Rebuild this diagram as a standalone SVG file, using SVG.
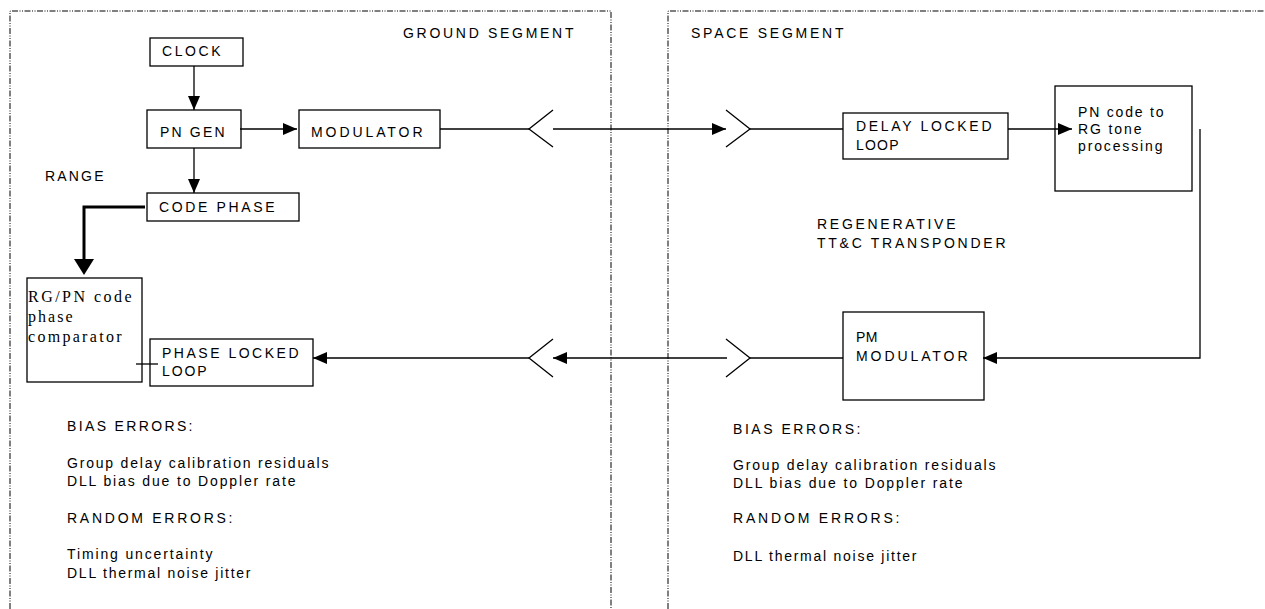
<svg xmlns="http://www.w3.org/2000/svg" width="1265" height="609" viewBox="0 0 1265 609">
<style>
.bg{fill:#fff}
.box{fill:#fff;stroke:#000;stroke-width:1.3}
.seg{fill:none;stroke:#000;stroke-width:1;stroke-dasharray:6 1.5 1 1.5 1 1.5}
.ln{fill:none;stroke:#000;stroke-width:1.3}
.thick{fill:none;stroke:#000;stroke-width:3}
.t{font-family:"Liberation Sans",Arial,sans-serif;font-size:14px;fill:#000;letter-spacing:1.5px}
.s{font-family:"Liberation Serif","Times New Roman",serif;font-size:16px;fill:#000;letter-spacing:1.5px}
</style>
<defs>
<marker id="ah" markerUnits="userSpaceOnUse" markerWidth="14" markerHeight="12" refX="14" refY="6" orient="auto">
<path d="M0,0 L14,6 L0,12 z" fill="#000"/>
</marker>
</defs>
<rect class="bg" x="0" y="0" width="1265" height="609"/>
<g id="segments">
<path class="seg" d="M10,609 V11 H611 V609"/>
<path class="seg" d="M668,609 V11 H1265"/>
<text class="t" x="403" y="38" textLength="172" lengthAdjust="spacing">GROUND SEGMENT</text>
<text class="t" x="691" y="38" textLength="154" lengthAdjust="spacing">SPACE SEGMENT</text>
</g>
<g id="clock"><rect class="box" x="150" y="38" width="93" height="28"/><text class="t" x="162" y="56" textLength="60" lengthAdjust="spacing">CLOCK</text></g>
<g id="pngen"><rect class="box" x="147" y="110" width="94" height="38"/><text class="t" x="160" y="137" textLength="66" lengthAdjust="spacing">PN GEN</text></g>
<g id="modulator"><rect class="box" x="299" y="110" width="141" height="38"/><text class="t" x="311" y="137" textLength="113" lengthAdjust="spacing">MODULATOR</text></g>
<g id="range"><text class="t" x="45" y="181" textLength="60" lengthAdjust="spacing">RANGE</text></g>
<g id="codephase"><rect class="box" x="147" y="193" width="152" height="28"/><text class="t" x="159" y="212" textLength="117" lengthAdjust="spacing">CODE PHASE</text></g>
<g id="comparator"><rect class="box" x="27" y="278" width="115" height="104"/>
<text class="s" x="28" y="302" textLength="105" lengthAdjust="spacing">RG/PN code</text>
<text class="s" x="28" y="322" textLength="46" lengthAdjust="spacing">phase</text>
<text class="s" x="28" y="342" textLength="95" lengthAdjust="spacing">comparator</text></g>
<g id="pll"><rect class="box" x="150" y="339" width="163" height="47"/>
<text class="t" x="162" y="358" textLength="138" lengthAdjust="spacing">PHASE LOCKED</text>
<text class="t" x="162" y="376" textLength="46" lengthAdjust="spacing">LOOP</text></g>
<g id="dll"><rect class="box" x="843" y="113" width="165" height="46"/>
<text class="t" x="856" y="131" textLength="137" lengthAdjust="spacing">DELAY LOCKED</text>
<text class="t" x="856" y="150" textLength="44" lengthAdjust="spacing">LOOP</text></g>
<g id="pntone"><rect class="box" x="1055" y="86" width="137" height="105"/>
<text class="t" x="1078" y="117" textLength="87" lengthAdjust="spacing">PN code to</text>
<text class="t" x="1078" y="134" textLength="65" lengthAdjust="spacing">RG tone</text>
<text class="t" x="1078" y="151" textLength="86" lengthAdjust="spacing">processing</text></g>
<g id="transponder">
<text class="t" x="817" y="229" textLength="140" lengthAdjust="spacing">REGENERATIVE</text>
<text class="t" x="817" y="248" textLength="190" lengthAdjust="spacing">TT&amp;C TRANSPONDER</text></g>
<g id="pmmod"><rect class="box" x="843" y="312" width="141" height="88"/>
<text class="t" x="856" y="342" textLength="23" lengthAdjust="spacing">PM</text>
<text class="t" x="856" y="361" textLength="113" lengthAdjust="spacing">MODULATOR</text></g>
<g id="ground-errors">
<text class="t" x="67" y="431" textLength="127" lengthAdjust="spacing">BIAS ERRORS:</text>
<text class="t" x="67" y="468" textLength="263" lengthAdjust="spacing">Group delay calibration residuals</text>
<text class="t" x="67" y="486" textLength="230" lengthAdjust="spacing">DLL bias due to Doppler rate</text>
<text class="t" x="67" y="523" textLength="167" lengthAdjust="spacing">RANDOM ERRORS:</text>
<text class="t" x="67" y="559" textLength="147" lengthAdjust="spacing">Timing uncertainty</text>
<text class="t" x="67" y="578" textLength="185" lengthAdjust="spacing">DLL thermal noise jitter</text></g>
<g id="space-errors">
<text class="t" x="733" y="434" textLength="129" lengthAdjust="spacing">BIAS ERRORS:</text>
<text class="t" x="733" y="470" textLength="264" lengthAdjust="spacing">Group delay calibration residuals</text>
<text class="t" x="733" y="488" textLength="231" lengthAdjust="spacing">DLL bias due to Doppler rate</text>
<text class="t" x="733" y="523" textLength="168" lengthAdjust="spacing">RANDOM ERRORS:</text>
<text class="t" x="733" y="561" textLength="185" lengthAdjust="spacing">DLL thermal noise jitter</text></g>
<g id="connectors">
<line class="ln" x1="194" y1="66" x2="194" y2="110" marker-end="url(#ah)"/>
<line class="ln" x1="194" y1="148" x2="194" y2="193" marker-end="url(#ah)"/>
<line class="ln" x1="240" y1="129" x2="297" y2="129" marker-end="url(#ah)"/>
<polyline class="thick" points="145,207 84,207 84,260"/>
<polygon points="74,259 94,259 84,275" fill="#000"/>
<line class="ln" x1="440" y1="129" x2="529" y2="129"/>
<polyline class="ln" points="553,110 529,129 553,147"/>
<line class="ln" x1="553" y1="129" x2="726" y2="129" marker-end="url(#ah)"/>
<polyline class="ln" points="726,110 750,129 726,147"/>
<line class="ln" x1="750" y1="129" x2="843" y2="129"/>
<line class="ln" x1="1008" y1="129" x2="1072" y2="129" marker-end="url(#ah)"/>
<polyline class="ln" points="1200,129 1200,358 983,358" marker-end="url(#ah)"/>
<line class="ln" x1="843" y1="358" x2="750" y2="358"/>
<polyline class="ln" points="726,339 750,358 726,377"/>
<line class="ln" x1="727" y1="358" x2="553" y2="358" marker-end="url(#ah)"/>
<polyline class="ln" points="553,339 529,358 553,377"/>
<line class="ln" x1="529" y1="358" x2="313" y2="358" marker-end="url(#ah)"/>
<line class="ln" x1="136" y1="364" x2="158" y2="364"/>
</g>
</svg>
